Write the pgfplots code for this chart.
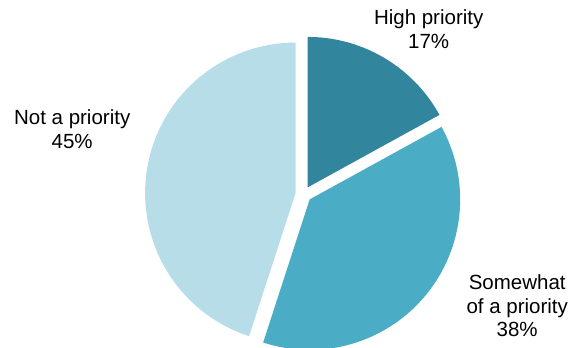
\documentclass[border=0pt]{standalone}
\usepackage{pgfplots}
\pgfplotsset{compat=1.18}
\usepackage{fontspec}
\setmainfont{Liberation Sans}
\definecolor{cHigh}{HTML}{31859C}
\definecolor{cSome}{HTML}{4BACC6}
\definecolor{cNot}{HTML}{B7DEE8}
% shares (percent)
\def\vHigh{17}
\def\vSome{38}
\def\vNot{45}
\def\cx{303.5}
\def\cy{153.7}
\def\rad{150.5}
\def\expl{8}
\newcommand{\slice}[3]{%
  \pgfmathsetmacro\ox{\cx+\expl*cos((#1+#2)/2)}%
  \pgfmathsetmacro\oy{\cy+\expl*sin((#1+#2)/2)}%
  \edef\doslice{\noexpand\addplot[fill=#3,draw=none,domain=#1:#2,samples=120,variable=\noexpand\t]
    ({\ox+\rad*cos(\noexpand\t)},{\oy+\rad*sin(\noexpand\t)}) -- (axis cs:\ox,\oy) -- cycle;}%
  \doslice
}
\begin{document}
\begin{tikzpicture}
\pgfmathsetmacro\aA{90-3.6*\vHigh}
\pgfmathsetmacro\aB{\aA-3.6*\vSome}
\pgfmathsetmacro\aC{\aB-3.6*\vNot}
\begin{axis}[
  width=574bp, height=348bp, scale only axis,
  xmin=0, xmax=574, ymin=0, ymax=348,
  hide axis, clip=false,
]
\slice{\aA}{90}{cHigh}
\slice{\aB}{\aA}{cSome}
\slice{\aC}{\aB}{cNot}
\begin{scope}[every node/.style={font=\fontsize{20.5bp}{23.5bp}\selectfont, anchor=base, inner sep=0pt, text=black}]
\node at (axis cs:428.7,323) {High priority};
\node at (axis cs:428.7,299.7) {17\%};
\node at (axis cs:72.2,223.7) {Not a priority};
\node at (axis cs:72.2,199.7) {45\%};
\node at (axis cs:517.2,58) {Somewhat};
\node at (axis cs:517.2,34.7) {of a priority};
\node at (axis cs:517.2,11.3) {38\%};
\end{scope}
\end{axis}
\pgfresetboundingbox
\path (0,0) rectangle (574bp,348bp);
\end{tikzpicture}
\end{document}
